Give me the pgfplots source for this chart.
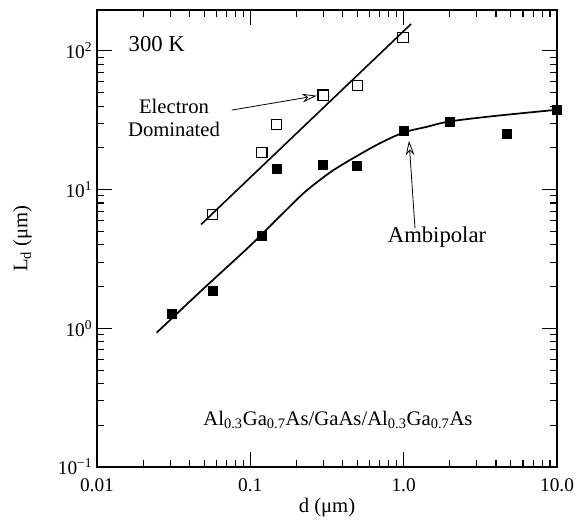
\documentclass[border=0pt]{standalone}
\usepackage{fontspec}
\setmainfont{Liberation Serif}
\newfontfamily\tnr{Liberation Serif}
\usepackage{pgfplots}
\pgfplotsset{compat=1.18}
\usetikzlibrary{arrows.meta}

\begin{document}
\begin{tikzpicture}
\begin{axis}[
  name=ax,
  scale only axis,
  width=345pt, height=342.75pt,
  xmode=log, ymode=log,
  xmin=0.01, xmax=10, ymin=0.1, ymax=197,
  axis line style={line width=1.3pt},
  tick style={black, line width=0.8pt},
  tick align=inside,
  major tick length=11pt, minor tick length=5pt,
  xtick={0.01,0.1,1,10}, xticklabels={0.01,0.1,1.0,10.0},
  ytick={0.1,1,10,100},
  yticklabels={10\textsuperscript{−1},10\textsuperscript{0},10\textsuperscript{1},10\textsuperscript{2}},
  /pgf/number format/assume math mode=true,
  ticklabel style={font=\tnr\fontsize{14.5}{17}\selectfont},
  xticklabel style={yshift=-5pt},
  xlabel={d (μm)}, ylabel={L\textsubscript{d} (μm)},
  label style={font=\tnr\fontsize{15.5}{18}\selectfont},
  xlabel style={at={(axis description cs:0.5,-0.0897)}, anchor=center},
  ylabel style={at={(axis description cs:-0.162,0.5)}, anchor=center},
  clip=false,
]
% electron dominated (open squares)
\addplot[only marks, mark=square, mark size=3.8pt, mark options={line width=0.8pt}] coordinates {
  (0.057,6.6) (0.119,18.5) (0.149,29.4) (0.298,48) (0.497,56) (0.99,124)
};
% ambipolar (filled squares)
\addplot[only marks, mark=square*, mark size=3.4pt] coordinates {
  (0.0308,1.28) (0.057,1.85) (0.119,4.67) (0.149,14.2) (0.298,15.1)
  (0.497,14.9) (1.0,26.6) (2.0,31) (4.73,25.3) (10,37.6)
};
% fitted lines
\addplot[line width=1.2pt] coordinates {(0.0477,5.6) (1.117,156)};
\addplot[line width=1.3pt, smooth] coordinates {
  (0.0245,0.93) (0.05,1.95) (0.1,3.95) (0.16,6.6) (0.222,9.4)
  (0.298,12.2) (0.366,14.3) (0.52,18.0) (0.702,21.6) (1.0,25.8)
  (1.41,28.3) (2.0,31) (4.0,34.0) (10,37.6)
};

\draw[line width=0.6pt, -{Stealth[open,length=11pt,width=6.5pt,inset=3.5pt]}]
  (axis cs:0.0757,37.4) -- (axis cs:0.271,47.5);
\draw[line width=0.6pt, -{Stealth[open,length=11pt,width=6.5pt,inset=3.5pt]}]
  (axis cs:1.186,5.24) -- (axis cs:1.084,22.5);

\node[font=\tnr\fontsize{17}{20}\selectfont, anchor=west] at (axis cs:0.015,112) {300 K};
\node[font=\tnr\fontsize{15.5}{17}\selectfont, align=center] at (axis cs:0.0318,32.7) {Electron\\Dominated};
\node[font=\tnr\fontsize{17}{20}\selectfont] at (axis cs:1.65,4.52) {Ambipolar};
\node[font=\tnr\fontsize{15.5}{18}\selectfont] at (axis cs:0.373,0.218)
  {Al\textsubscript{0.3}Ga\textsubscript{0.7}As/GaAs/Al\textsubscript{0.3}Ga\textsubscript{0.7}As};
\end{axis}
\pgfresetboundingbox
\path ([shift={(-72.75pt,-42.75pt)}]ax.south west) rectangle ([shift={(360.75pt,350.25pt)}]ax.south west);
\end{tikzpicture}
\end{document}
